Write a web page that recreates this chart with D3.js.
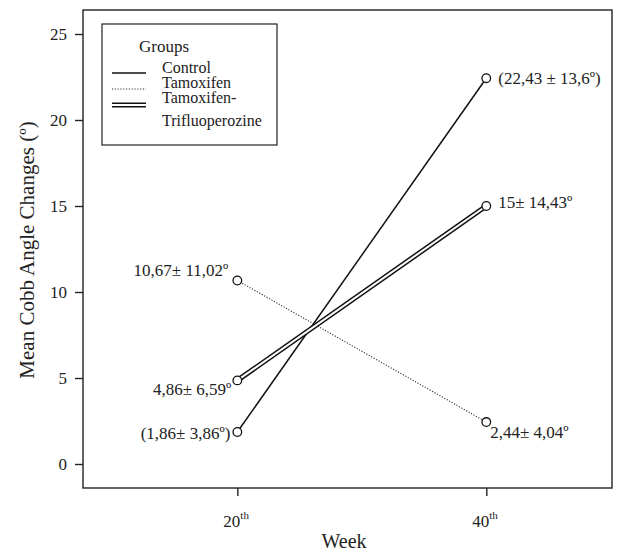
<!DOCTYPE html>
<html>
<head>
<meta charset="utf-8">
<script src="https://cdn.jsdelivr.net/npm/d3@7"></script>
<style>
  body { margin: 0; background: #fff; }
</style>
</head>
<body>
<script>
// data
const weeks = [20, 40];
const groups = ["Control", "Tamoxifen", "Tamoxifen-Trifluoperozine"];
const control = [1.86, 22.43];
const tamoxifen = [10.67, 2.44];
const tamTrif = [4.86, 15];
const controlLabels = ["(1,86\u00b1 3,86\u00ba)", "(22,43 \u00b1 13,6\u00ba)"];
const tamoxifenLabels = ["10,67\u00b1 11,02\u00ba", "2,44\u00b1 4,04\u00ba"];
const tamTrifLabels = ["4,86\u00b1 6,59\u00ba", "15\u00b1 14,43\u00ba"];
const yTicks = [0, 5, 10, 15, 20, 25];

const serif = "'Liberation Serif', 'DejaVu Serif', serif";
const W = 640, H = 552;
const margin = {top: 10, right: 28, bottom: 64, left: 83};
const width = W - margin.left - margin.right,
      height = H - margin.top - margin.bottom;

const svg = d3.select("body").append("svg")
    .attr("width", W).attr("height", H)
    .attr("font-family", serif)
    .attr("fill", "#222");
const g = svg.append("g")
    .attr("transform", "translate(" + margin.left + "," + margin.top + ")");

const x = d3.scaleLinear().domain([7.6, 50.1]).range([0, width]);
const y = d3.scaleLinear().domain([-1.395, 26.395]).range([height, 0]);

// frame
g.append("rect")
    .attr("width", width).attr("height", height)
    .attr("fill", "none").attr("stroke", "#222").attr("stroke-width", 1.4);

// y axis
const ya = g.append("g").call(d3.axisLeft(y).tickValues(yTicks).tickSize(8).tickPadding(8))
    .attr("font-family", serif).attr("font-size", 17);
ya.select(".domain").remove();
ya.selectAll("line").attr("stroke", "#222").attr("stroke-width", 1.4);
ya.selectAll("text").attr("fill", "#222");

// x axis
const xa = g.append("g").attr("transform", "translate(0," + height + ")")
    .call(d3.axisBottom(x).tickValues(weeks).tickSize(8).tickPadding(12).tickFormat(""))
    .attr("font-family", serif).attr("font-size", 17);
xa.select(".domain").remove();
xa.selectAll("line").attr("stroke", "#222").attr("stroke-width", 1.4);
xa.selectAll(".tick").each(function(d) {
  const t = d3.select(this).select("text")
      .attr("fill", "#222")
      .attr("dy", "1.1em").attr("dx", "-0.1em");
  t.text(null);
  t.append("tspan").text(d);
  t.append("tspan").text("th").attr("font-size", 11).attr("dy", "-0.7em");
});

// axis titles
svg.append("text")
    .attr("x", 344).attr("y", 548)
    .attr("text-anchor", "middle").attr("font-size", 20).text("Week");
svg.append("text")
    .attr("transform", "translate(34,250) rotate(-90)")
    .attr("text-anchor", "middle").attr("font-size", 21)
    .text("Mean Cobb Angle Changes (\u00ba)");

const line = d3.line().x((d, i) => x(weeks[i])).y(d => y(d));

// Tamoxifen (dotted)
g.append("path").datum(tamoxifen).attr("d", line)
    .attr("fill", "none").attr("stroke", "#333").attr("stroke-width", 1.1)
    .attr("stroke-dasharray", "1.2,1.6");
// Control (solid)
g.append("path").datum(control).attr("d", line)
    .attr("fill", "none").attr("stroke", "#111").attr("stroke-width", 1.5);
// Tamoxifen-Trifluoperozine (double)
g.append("path").datum(tamTrif).attr("d", line)
    .attr("fill", "none").attr("stroke", "#111").attr("stroke-width", 5);
g.append("path").datum(tamTrif).attr("d", line)
    .attr("fill", "none").attr("stroke", "#fff").attr("stroke-width", 2);

// point markers
[control, tamoxifen, tamTrif].forEach(s => {
  g.selectAll(null).data(s).join("circle")
      .attr("cx", (d, i) => x(weeks[i])).attr("cy", d => y(d))
      .attr("r", 4.3).attr("fill", "#fff").attr("stroke", "#111").attr("stroke-width", 1.3);
});

// value labels
function labels(series, texts, offs) {
  g.selectAll(null).data(series).join("text")
      .attr("x", (d, i) => x(weeks[i]) + offs[i][0])
      .attr("y", (d, i) => y(d) + offs[i][1])
      .attr("text-anchor", (d, i) => i === 0 ? "end" : "start")
      .attr("font-size", 17)
      .text((d, i) => texts[i]);
}
labels(control, controlLabels, [[-7, 7], [12, 6]]);
labels(tamoxifen, tamoxifenLabels, [[-9, -4], [4, 16]]);
labels(tamTrif, tamTrifLabels, [[-6, 15], [12, 2]]);

// legend
const lg = svg.append("g").attr("transform", "translate(102,24)");
lg.append("rect").attr("width", 175).attr("height", 121)
    .attr("fill", "#fff").attr("stroke", "#222").attr("stroke-width", 1.2);
lg.append("text").attr("x", 37).attr("y", 28).attr("font-size", 17).text("Groups");
const rows = [
  {ly: 49, ty: 49, name: "Control"},
  {ly: 65, ty: 64, name: "Tamoxifen"},
  {ly: 81, ty: 79, name: "Tamoxifen-"}
];
lg.append("line").attr("x1", 10).attr("x2", 44).attr("y1", rows[0].ly).attr("y2", rows[0].ly)
    .attr("stroke", "#111").attr("stroke-width", 1.5);
lg.append("line").attr("x1", 10).attr("x2", 44).attr("y1", rows[1].ly).attr("y2", rows[1].ly)
    .attr("stroke", "#333").attr("stroke-width", 1.1).attr("stroke-dasharray", "1.2,1.6");
lg.append("line").attr("x1", 10).attr("x2", 44).attr("y1", rows[2].ly).attr("y2", rows[2].ly)
    .attr("stroke", "#111").attr("stroke-width", 5);
lg.append("line").attr("x1", 10).attr("x2", 44).attr("y1", rows[2].ly).attr("y2", rows[2].ly)
    .attr("stroke", "#fff").attr("stroke-width", 2);
rows.forEach(r => {
  lg.append("text").attr("x", 60).attr("y", r.ty).attr("font-size", 16).text(r.name);
});
lg.append("text").attr("x", 60).attr("y", 102).attr("font-size", 16).text("Trifluoperozine");
</script>
</body>
</html>
